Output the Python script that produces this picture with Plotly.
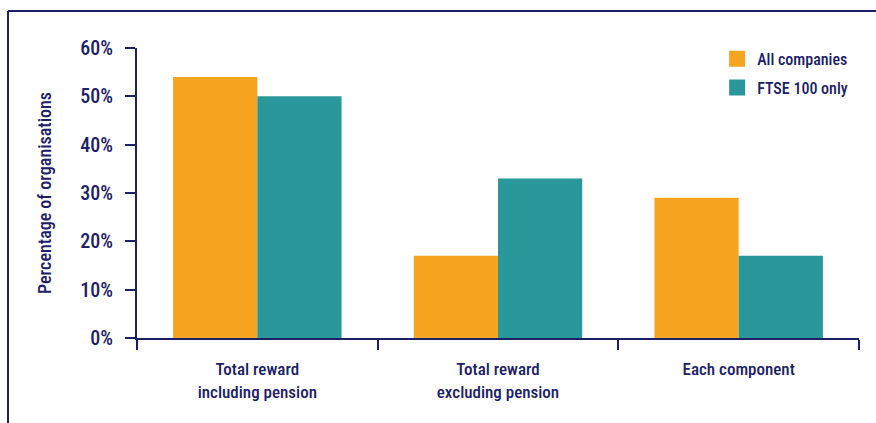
import plotly.graph_objects as go

categories = ["Total reward<br>including pension", "Total reward<br>excluding pension", "Each component"]
all_companies = [54, 17, 29]
ftse_100 = [50, 33, 17]
series_names = ["All companies", "FTSE 100 only"]

NAVY = "#1B2068"
ORANGE = "#F7A521"
TEAL = "#2A979A"
FONT = "Roboto Condensed, Liberation Sans Narrow, DejaVu Sans Condensed, sans-serif"

fig = go.Figure()
fig.add_trace(go.Bar(x=categories, y=all_companies, name=series_names[0],
                     marker=dict(color=ORANGE, line=dict(width=0)), showlegend=False))
fig.add_trace(go.Bar(x=categories, y=ftse_100, name=series_names[1],
                     marker=dict(color=TEAL, line=dict(width=0)), showlegend=False))
# legend entries with larger square swatches
for nm, col in zip(series_names, [ORANGE, TEAL]):
    fig.add_trace(go.Scatter(x=[None], y=[None], mode="markers", name=nm, legendgroup=nm,
                             marker=dict(symbol="square", size=16, color=col)))

fig.update_layout(
    width=876, height=423,
    margin=dict(l=137, r=17, t=48, b=85, autoexpand=False),
    paper_bgcolor="white", plot_bgcolor="white",
    font=dict(family=FONT, color=NAVY, size=18, weight=500),
    barmode="group", bargap=0.3, bargroupgap=0,
    legend=dict(x=0.8035, y=1.021, xanchor="left", yanchor="top",
                font=dict(size=16, color=NAVY, weight=500), itemsizing="trace",
                tracegroupgap=5, bgcolor="rgba(0,0,0,0)", itemwidth=30),
    xaxis=dict(showline=True, linecolor=NAVY, linewidth=2, ticks="outside",
               tickson="boundaries", ticklen=10, tickwidth=2, tickcolor=NAVY,
               tickfont=dict(size=17, color=NAVY, weight=500), showgrid=False, zeroline=False,
               ticklabelstandoff=15),
    yaxis=dict(range=[0, 60], dtick=10, ticksuffix="%", showline=True, linecolor=NAVY,
               linewidth=2, ticks="outside", ticklen=10, tickwidth=2, tickcolor=NAVY,
               tickfont=dict(size=20, color=NAVY, weight=500), showgrid=False, zeroline=False,
               ticklabelstandoff=8,
               title=dict(text="Percentage of organisations", font=dict(size=18, color=NAVY, weight=500),
                          standoff=24)),
    shapes=[
        dict(type="line", xref="paper", yref="paper",
             x0=(8 - 137) / 722, x1=1.5, y0=(338 - 11) / 290, y1=(338 - 11) / 290,
             line=dict(color=NAVY, width=2), layer="below"),
        dict(type="line", xref="paper", yref="paper",
             x0=(8 - 137) / 722, x1=(8 - 137) / 722, y0=-0.8, y1=(338 - 11) / 290,
             line=dict(color=NAVY, width=2), layer="below"),
    ],
)

fig.write_html("out.html")
